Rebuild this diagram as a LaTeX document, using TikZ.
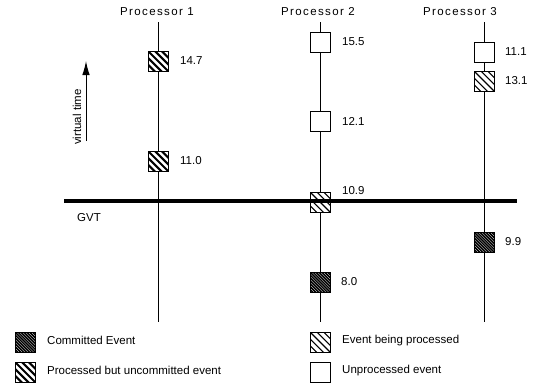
\documentclass[tikz,border=0pt]{standalone}
\usepackage{fontspec}
\setmainfont{Liberation Sans}
\usetikzlibrary{arrows.meta}
\tikzset{
  hatchfill/.style 2 args={path picture={
    \foreach \k in {-8,...,8}
      \draw[line width=#2]
        ([xshift={\k*#1}]path picture bounding box.center) ++(-16pt,16pt) -- ++(32pt,-32pt);
  }},
  evbox/.style={draw, line width=1pt, fill=white, minimum size=20pt, inner sep=0pt},
  unprocessed/.style={evbox},
  uncommitted/.style={evbox, hatchfill={6.8pt}{2.1pt}},
  processing/.style={evbox, hatchfill={6.8pt}{1.1pt}},
  committed/.style={evbox, hatchfill={2.9pt}{1.5pt}},
  txt/.style={font=\fontsize{11.5}{13}\selectfont, inner sep=0pt},
  stamp/.style={txt, anchor=west},
  proclabel/.style={font=\fontsize{11.5}{13}\selectfont\addfontfeatures{LetterSpace=12}, inner sep=0pt},
  timeline/.style={line width=0.8pt},
}
\begin{document}
\begin{tikzpicture}[x=1pt, y=-1pt]
\useasboundingbox (0,0) rectangle (533,388);

% processor headings
\node[proclabel] (h1) at (157,12) {Processor 1};
\node[proclabel] (h2) at (318,12) {Processor 2};
\node[proclabel] (h3) at (460,12) {Processor 3};

% ends of the processor time lines
\coordinate (t1) at (158,22);  \coordinate (b1) at (158,322);
\coordinate (t2) at (320,22);  \coordinate (b2) at (320,322);
\coordinate (t3) at (484,22);  \coordinate (b3) at (484,322);

% events on processor 1
\node[uncommitted] (e147) at (158,61) {};
\node[uncommitted] (e110) at (158,161) {};
% events on processor 2
\node[unprocessed] (e155) at (320,42) {};
\node[unprocessed] (e121) at (320,121) {};
\node[processing]  (e109) at (320,202) {};
\node[committed]   (e080) at (320,282) {};
% events on processor 3
\node[unprocessed] (e111) at (484,52) {};
\node[processing]  (e131) at (484,81) {};
\node[committed]   (e099) at (484,242) {};

% time lines
\draw[timeline] (t1) -- (e147) -- (e110) -- (b1);
\draw[timeline] (t2) -- (e155) -- (e121) -- (e109) -- (e080) -- (b2);
\draw[timeline] (t3) -- (e111) -- (e131) -- (e099) -- (b3);

% timestamps
\node[stamp] (s147) at (180,61) {14.7};
\node[stamp] (s110) at (180,161) {11.0};
\node[stamp] (s155) at (342,42) {15.5};
\node[stamp] (s121) at (342,121) {12.1};
\node[stamp] (s109) at (342,191) {10.9};
\node[stamp] (s080) at (341,282) {8.0};
\node[stamp] (s111) at (505,52) {11.1};
\node[stamp] (s131) at (505,81) {13.1};
\node[stamp] (s099) at (505,242) {9.9};

% global virtual time
\coordinate (g0) at (64,201);
\coordinate (g1) at (517,201);
\draw[line width=4.3pt] (g0) -- (g1);
\node[txt] (gvt) at (89,218) {GVT};

% direction of virtual time
\coordinate (va) at (86,141);
\coordinate (vb) at (86,61);
\draw[line width=1pt, -{Latex[length=14pt,width=7.5pt]}] (va) -- (vb);
\node[txt, rotate=90] (vt) at (77,117) {virtual time};

% legend
\node[committed]   (k1) at (25,342) {};
\node[stamp] (k1t) at (47,340) {Committed Event};
\node[uncommitted] (k2) at (25,372) {};
\node[stamp] (k2t) at (47,370) {Processed but uncommitted event};
\node[processing]  (k3) at (320,342) {};
\node[stamp] (k3t) at (342,341) {Event being processed};
\node[unprocessed] (k4) at (320,372) {};
\node[stamp] (k4t) at (342,371) {Unprocessed event};
\end{tikzpicture}
\end{document}
